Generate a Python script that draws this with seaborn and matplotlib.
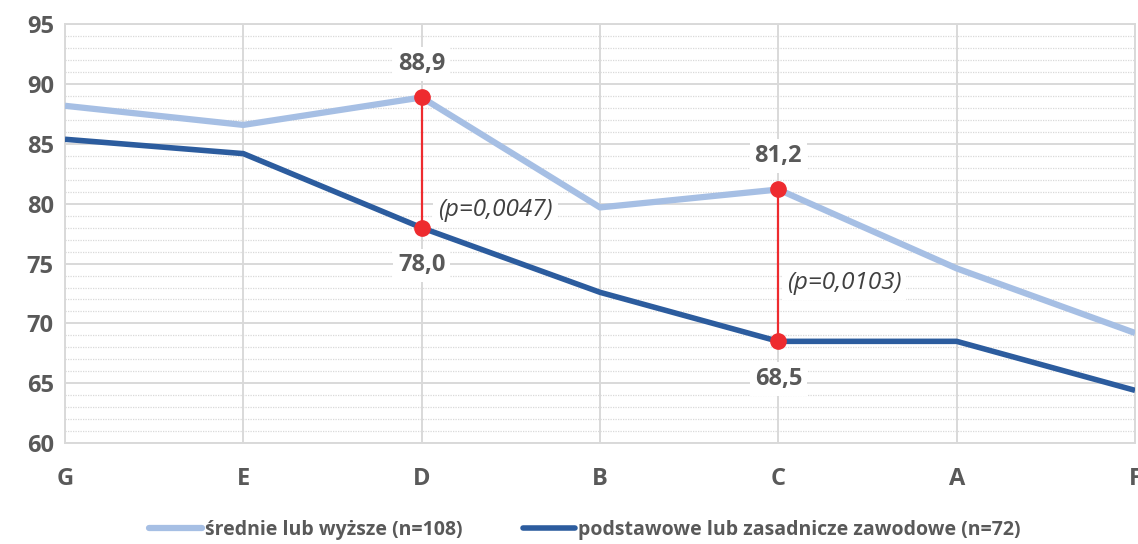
import matplotlib
matplotlib.use("Agg")
import matplotlib.pyplot as plt
from matplotlib.ticker import MultipleLocator
from matplotlib.lines import Line2D
import seaborn as sns
import pandas as pd

categories = ["G", "E", "D", "B", "C", "A", "F"]
higher = [88.2, 86.6, 88.9, 79.7, 81.2, 74.6, 69.2]
basic = [85.4, 84.2, 78.0, 72.6, 68.5, 68.5, 64.4]
series_names = ["średnie lub wyższe (n=108)", "podstawowe lub zasadnicze zawodowe (n=72)"]
colors = ["#A6BFE4", "#2C5C9E"]

# significant differences: category, upper value, lower value, p-value label
sig_cats = ["D", "C"]
sig_upper = [88.9, 81.2]
sig_lower = [78.0, 68.5]
sig_labels = ["(p=0,0047)", "(p=0,0103)"]
sig_label_y = [79.5, 73.4]
sig_label_dx = [12, 6]

df = pd.DataFrame({
    "kat": categories * 2,
    "wartosc": higher + basic,
    "grupa": [series_names[0]] * len(categories) + [series_names[1]] * len(categories),
})

sns.set_theme(style="white")
plt.rcParams["font.family"] = ["Open Sans", "DejaVu Sans"]

fig = plt.figure(figsize=(11.38, 5.44), dpi=100)
ax = fig.add_axes([0.0571, 0.1857, 0.9403, 0.7693])

ax.yaxis.set_minor_locator(MultipleLocator(1))
ax.yaxis.set_major_locator(MultipleLocator(5))
ax.grid(which="major", axis="both", color="#D9D9D9", lw=1.4, zorder=0)
ax.grid(which="minor", axis="y", color="#D9D9D9", lw=0.9, ls=(0, (1, 1)), zorder=0)

sns.lineplot(data=df, x="kat", y="wartosc", hue="grupa", palette=colors,
             ax=ax, legend=False, sort=False, zorder=3)
for line, lw in zip(ax.lines, [4.5, 4.0]):
    line.set_linewidth(lw)
    line.set_solid_capstyle("butt")

pos = {c: i for i, c in enumerate(categories)}
label_box = dict(boxstyle="square,pad=0.2", fc="white", ec="none")
for cat, up, lo, lab, ly, dx in zip(sig_cats, sig_upper, sig_lower, sig_labels,
                                    sig_label_y, sig_label_dx):
    x = pos[cat]
    ax.plot([x, x], [lo, up], color="#EE2B2F", lw=1.6, zorder=4)
    ax.plot([x, x], [lo, up], "o", color="#EE2B2F", ms=11, zorder=5)
    ax.annotate(f"{up:.1f}".replace(".", ","), (x, up), xytext=(0, 24),
                textcoords="offset points", ha="center", va="center",
                fontsize=17, fontweight="bold", color="#595959", bbox=label_box, zorder=6)
    ax.annotate(f"{lo:.1f}".replace(".", ","), (x, lo), xytext=(0, -27),
                textcoords="offset points", ha="center", va="center",
                fontsize=17, fontweight="bold", color="#595959", bbox=label_box, zorder=6)
    ax.annotate(lab, (x, ly), xytext=(dx, 0), textcoords="offset points",
                ha="left", va="center", fontsize=17.5, fontstyle="italic",
                color="#404040", bbox=label_box, zorder=6)

ax.set_xlim(0, len(categories) - 1)
ax.set_ylim(60, 95)
ax.set_xlabel("")
ax.set_ylabel("")
ax.tick_params(axis="both", which="both", length=0)
ax.tick_params(axis="y", pad=8, labelsize=17, labelcolor="#595959")
ax.tick_params(axis="x", pad=17, labelsize=17, labelcolor="#595959")
for t in ax.get_xticklabels() + ax.get_yticklabels():
    t.set_fontweight("bold")
for s in ax.spines.values():
    s.set_color("#D9D9D9")
    s.set_linewidth(1.4)

handles = [Line2D([0], [0], color=colors[0], lw=4.5, solid_capstyle="round"),
           Line2D([0], [0], color=colors[1], lw=4.0, solid_capstyle="round")]
fig.legend(handles, series_names, loc="lower center", bbox_to_anchor=(0.514, -0.025),
           ncol=2, frameon=False, handlelength=2.7, handletextpad=0.15,
           columnspacing=3.1, prop={"size": 14, "weight": "bold"},
           labelcolor="#595959")

fig.savefig("out.png", dpi=100)
